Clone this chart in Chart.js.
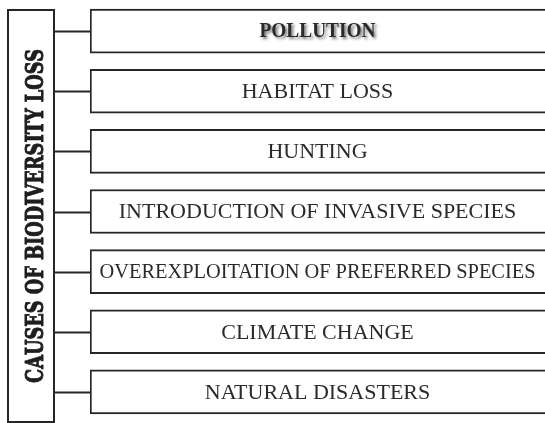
<!DOCTYPE html>
<html>
<head>
<meta charset="utf-8">
<script src="https://cdn.jsdelivr.net/npm/chart.js@4"></script>
<style>
    html, body { margin: 0; padding: 0; background: #fff; }
    #wrap { width: 545px; height: 423px; position: relative; }
</style>
</head>
<body>
<div id="wrap"><canvas id="myChart"></canvas></div>
<script>
// the causes, top to bottom
const causes = [
    'POLLUTION',
    'HABITAT LOSS',
    'HUNTING',
    'INTRODUCTION OF INVASIVE SPECIES',
    'OVEREXPLOITATION OF PREFERRED SPECIES',
    'CLIMATE CHANGE',
    'NATURAL DISASTERS'
];
// every box runs the full width of the diagram
const boxLength = [1, 1, 1, 1, 1, 1, 1];
const title = 'CAUSES OF BIODIVERSITY LOSS';

const lineColor = '#262626';

// left box, connectors and all the text
const diagramPlugin = {
    id: 'diagram',
    afterDatasetsDraw(chart) {
        const ctx = chart.ctx;
        const bars = chart.getDatasetMeta(0).data;
        ctx.save();

        // title box
        ctx.strokeStyle = lineColor;
        ctx.lineWidth = 2;
        ctx.strokeRect(8, 10, 46, 412);

        // connectors
        bars.forEach((bar) => {
            ctx.beginPath();
            ctx.moveTo(54, Math.round(bar.y) + 0.5);
            ctx.lineTo(bar.base + 1, Math.round(bar.y) + 0.5);
            ctx.stroke();
        });

        // box labels
        ctx.textAlign = 'center';
        ctx.textBaseline = 'middle';
        bars.forEach((bar, i) => {
            const cx = (bar.base + chart.chartArea.right) / 2;
            ctx.save();
            ctx.fillStyle = '#2a2a2a';
            if (i === 0) {
                ctx.font = 'bold 21px "Liberation Serif"';
                ctx.shadowColor = 'rgba(0,0,0,0.55)';
                ctx.shadowBlur = 3;
                ctx.shadowOffsetX = 2;
                ctx.shadowOffsetY = 2;
                ctx.fillText(causes[i], cx, bar.y + 1, 116);
            } else {
                ctx.font = '22px "Liberation Serif"';
                ctx.fillText(causes[i], cx, bar.y + 1, 436);
            }
            ctx.restore();
        });

        // vertical title
        ctx.translate(35, 216);
        ctx.rotate(-Math.PI / 2);
        ctx.font = 'bold 25px "DejaVu Serif"';
        ctx.fillStyle = '#1e1e1e';
        ctx.strokeStyle = '#1e1e1e';
        ctx.lineWidth = 1;
        ctx.fillText(title, 0, 1, 334);
        ctx.strokeText(title, 0, 1, 334);

        ctx.restore();
    }
};

var ctx = document.getElementById('myChart').getContext('2d');

var chart = new Chart(ctx, { //eslint-disable-line
    type: 'bar',
    data: {
        labels: causes,
        datasets: [
            {
                data: boxLength,
                backgroundColor: '#ffffff',
                borderColor: lineColor,
                borderWidth: 2,
                borderSkipped: 'right',
                barThickness: 44
            }
        ]
    },
    options: {
        indexAxis: 'y',
        responsive: true,
        maintainAspectRatio: false,
        animation: false,
        events: [],
        layout: { padding: { left: 90, right: 0, top: 1, bottom: 1 } },
        scales: {
            x: { display: false, min: 0, max: 1 },
            y: { display: false }
        },
        plugins: {
            legend: { display: false },
            tooltip: { enabled: false }
        }
    },
    plugins: [diagramPlugin]
});
</script>
</body>
</html>
